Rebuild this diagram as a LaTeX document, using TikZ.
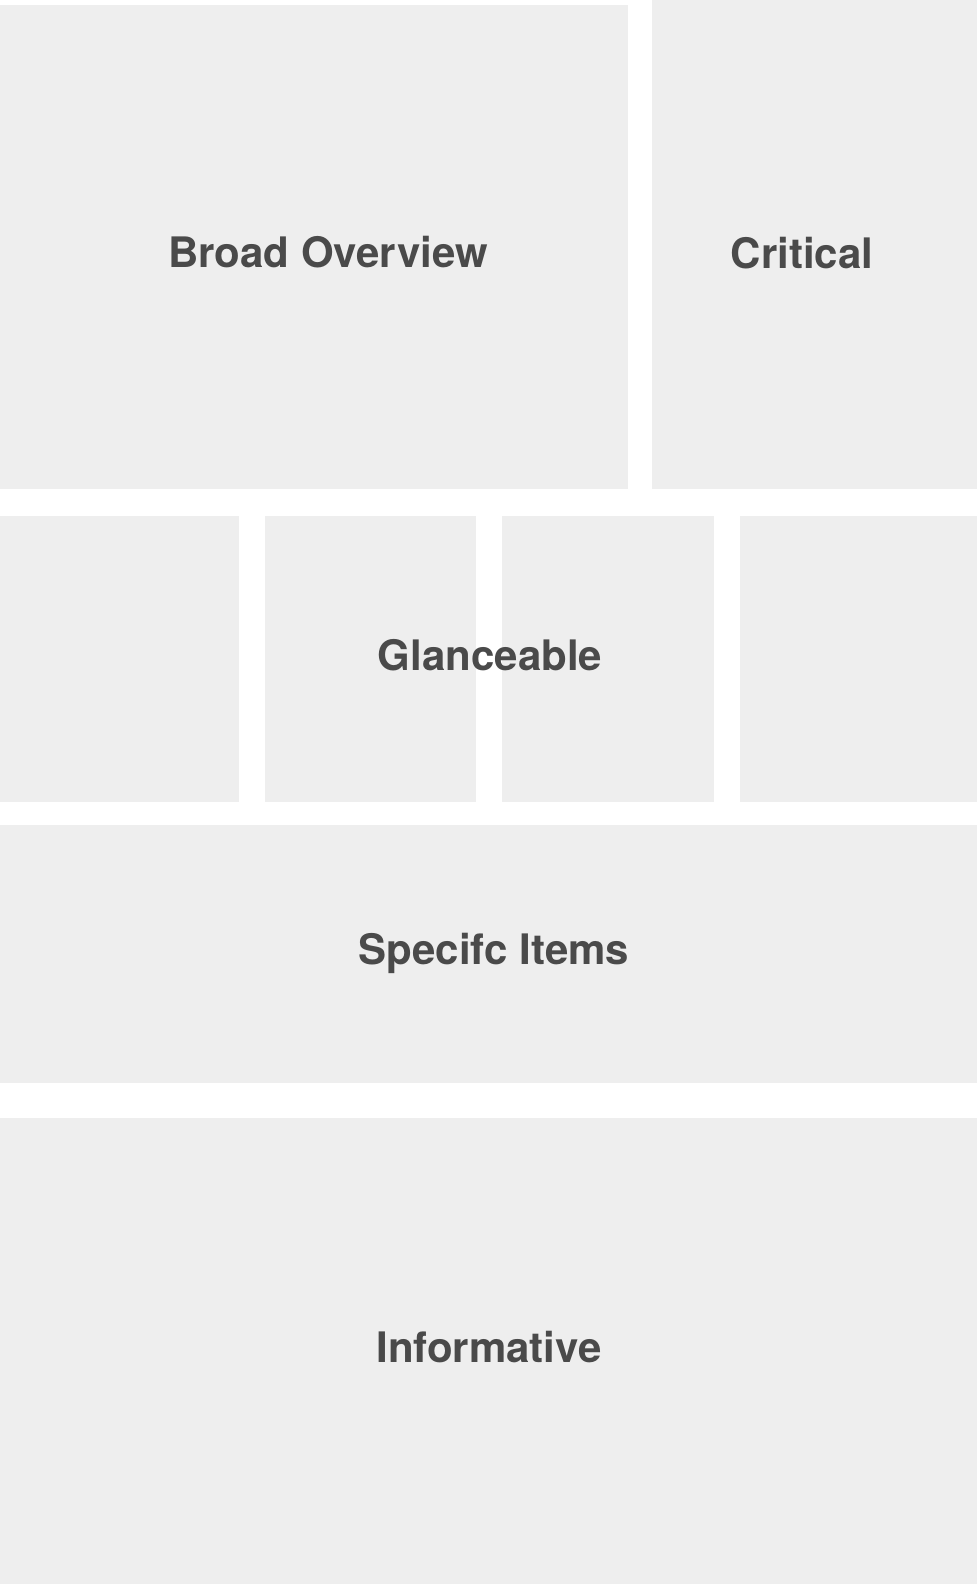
\documentclass[tikz,border=0pt]{standalone}
\usepackage{fontspec}
\setmainfont{TeX Gyre Heros}
\usepackage{tikz}
\usetikzlibrary{positioning}
\definecolor{grisPanel}{HTML}{EEEEEE}
\definecolor{grisTexto}{HTML}{4A4A4A}

\begin{document}
\begin{tikzpicture}[x=1pt, y=-1pt,
        panel/.style={fill=grisPanel, draw=none, anchor=north west, inner sep=0pt, outer sep=0pt},
        titulo/.style={text=grisTexto, font=\bfseries\fontsize{42}{50}\selectfont, inner sep=0pt}
    ]
        \useasboundingbox (0,0) rectangle (977,1584);
        % fila superior
        \node[panel, minimum width=628pt, minimum height=484pt] (broad) at (0,5) {};
        \node[panel, minimum width=325pt, minimum height=489pt] (crit) at (652,0) {};
        % fila de cuatro paneles
        \node[panel, minimum width=239pt, minimum height=286pt] (glA) at (0,516) {};
        \node[panel, minimum width=211pt, minimum height=286pt] (glB) at (265,516) {};
        \node[panel, minimum width=212pt, minimum height=286pt] (glC) at (502,516) {};
        \node[panel, minimum width=237pt, minimum height=286pt] (glD) at (740,516) {};
        % filas inferiores
        \node[panel, minimum width=977pt, minimum height=258pt] (spec) at (0,825) {};
        \node[panel, minimum width=977pt, minimum height=466pt] (info) at (0,1118) {};

        \node[titulo] (tBroad) at (328,252) {Broad Overview};
        \node[titulo] (tCrit) at (802,253) {Critical};
        \node[titulo] (tGlance) at (490,655) {Glanceable};
        \node[titulo] (tSpec) at (494,953) {Specifc Items};
        \node[titulo] (tInfo) at (489,1347) {Informative};
    \end{tikzpicture}
\end{document}
